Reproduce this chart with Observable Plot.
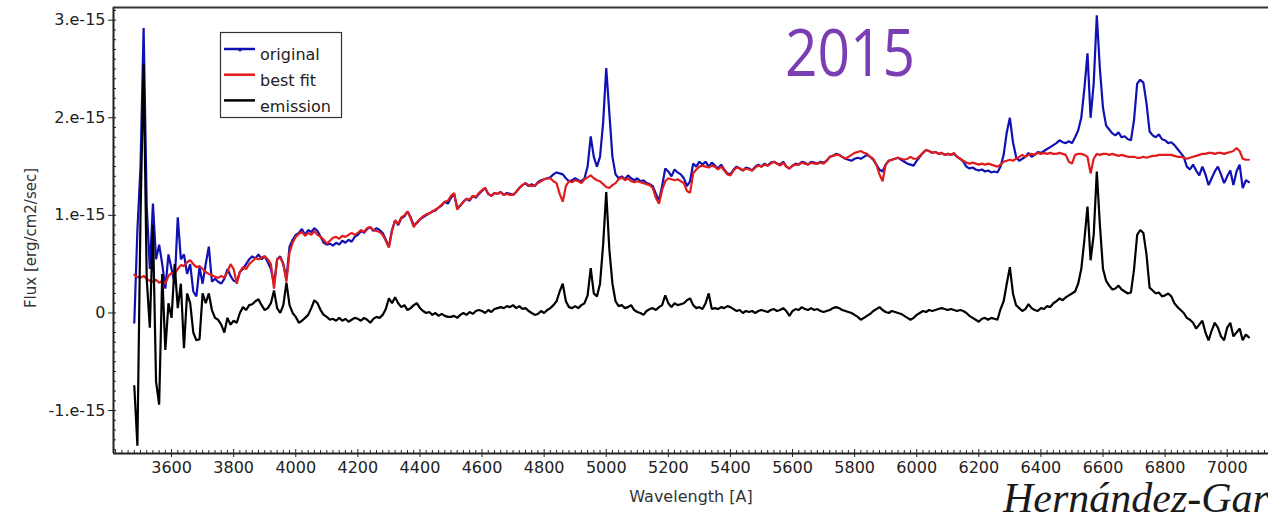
<!DOCTYPE html>
<html>
<head>
<meta charset="utf-8">
<script src="https://cdn.jsdelivr.net/npm/d3@7"></script>
<script src="https://cdn.jsdelivr.net/npm/@observablehq/plot@0.6"></script>
<style>
  html, body { margin: 0; padding: 0; background: #fff; }
  #wrap { position: relative; width: 1268px; height: 512px; overflow: hidden; background: #fff; }
  #overlay { position: absolute; left: 0; top: 0; pointer-events: none; }
</style>
</head>
<body>
<div id="wrap"><div id="chart"></div><svg id="overlay" width="1268" height="512"></svg></div>
<script>
// Spectrum sampled every 10 Å starting at 3480 Å; flux values in units of 1e-15 erg/cm2/sec
const wavelengthStart = 3480;
const wavelengthStep = 10;

const original = [
  -0.1, 0.85,
  1.5, 2.92, 1.1, 0.45, 1.12, 0.55, 0.7, 0.5, 0.25, 0.6,
  0.45, 0.3, 0.98, 0.55, 0.6, 0.4, 0.5, 0.22, 0.17, 0.47,
  0.3, 0.5, 0.68, 0.32, 0.35, 0.32, 0.3, 0.35, 0.45, 0.38,
  0.33, 0.32, 0.42, 0.45, 0.5, 0.55, 0.58, 0.56, 0.6, 0.55,
  0.58, 0.52, 0.45, 0.3, 0.55, 0.58, 0.5, 0.35, 0.68, 0.75,
  0.8, 0.82, 0.86, 0.8, 0.85, 0.83, 0.87, 0.84, 0.78, 0.72,
  0.7, 0.71, 0.69, 0.72, 0.7, 0.74, 0.72, 0.75, 0.73, 0.78,
  0.8, 0.84, 0.82, 0.86, 0.88, 0.84, 0.87, 0.85, 0.82, 0.75,
  0.68, 0.85, 0.95, 0.9, 0.97, 0.99, 1.04, 0.98, 0.9, 0.92,
  0.96, 0.98, 1.0, 1.02, 1.04, 1.05, 1.08, 1.1, 1.14, 1.12,
  1.18, 1.22, 1.08, 1.1, 1.14, 1.17, 1.15, 1.2, 1.18, 1.22,
  1.25, 1.28, 1.22, 1.2, 1.23, 1.22, 1.24, 1.21, 1.23, 1.22,
  1.21, 1.24, 1.28, 1.31, 1.33, 1.3, 1.32, 1.3, 1.34, 1.36,
  1.37, 1.38, 1.39, 1.42, 1.44, 1.43, 1.42, 1.38, 1.35, 1.36,
  1.38, 1.36, 1.35, 1.38, 1.5, 1.81, 1.6, 1.5, 1.6, 1.95,
  2.51, 2.05, 1.6, 1.42, 1.38, 1.4, 1.37, 1.41, 1.38, 1.36,
  1.38, 1.35, 1.36, 1.33, 1.32, 1.3, 1.22, 1.15, 1.3, 1.48,
  1.45, 1.4, 1.47, 1.44, 1.42, 1.38, 1.3, 1.35, 1.53, 1.5,
  1.55, 1.52, 1.55, 1.5, 1.54, 1.51, 1.48, 1.52, 1.47, 1.43,
  1.42, 1.47, 1.5, 1.48, 1.46, 1.49, 1.48, 1.46, 1.5, 1.52,
  1.5, 1.53, 1.51, 1.54, 1.55, 1.53, 1.52, 1.55, 1.5, 1.48,
  1.51, 1.53, 1.52, 1.55, 1.54, 1.52, 1.55, 1.54, 1.53, 1.55,
  1.54, 1.56, 1.6, 1.61, 1.63, 1.62, 1.6, 1.58, 1.57, 1.56,
  1.58, 1.59, 1.58, 1.6, 1.62, 1.6, 1.57, 1.52, 1.47, 1.45,
  1.52, 1.56, 1.57, 1.58, 1.59, 1.57, 1.55, 1.53, 1.52, 1.51,
  1.56, 1.6, 1.64, 1.67, 1.66, 1.64, 1.65, 1.63, 1.64, 1.62,
  1.63, 1.62, 1.63, 1.6, 1.58, 1.55, 1.5, 1.48, 1.49, 1.47,
  1.46, 1.47, 1.45, 1.46, 1.44, 1.45, 1.44, 1.5, 1.62, 1.85,
  2.0, 1.75, 1.6, 1.56, 1.58, 1.6, 1.64, 1.6, 1.62, 1.65,
  1.64, 1.66, 1.68, 1.7, 1.72, 1.74, 1.77, 1.75, 1.74, 1.76,
  1.74, 1.8, 1.87, 2.0, 2.3, 2.66, 2.0, 2.35, 3.05, 2.5,
  2.1, 1.92, 1.88, 1.84, 1.82, 1.85, 1.8, 1.81, 1.78, 1.77,
  1.98, 2.35, 2.39, 2.36, 2.15, 1.86, 1.82, 1.8, 1.83, 1.78,
  1.77, 1.74, 1.75, 1.72, 1.68, 1.64, 1.6, 1.5, 1.47, 1.52,
  1.46, 1.41, 1.5, 1.42, 1.31, 1.38, 1.45, 1.5, 1.42, 1.33,
  1.4, 1.46, 1.31, 1.45, 1.52, 1.28, 1.36, 1.34
];

const bestFit = [
  0.39, 0.37,
  0.36, 0.38, 0.35, 0.33, 0.32, 0.34, 0.31, 0.33, 0.3, 0.38,
  0.41, 0.4, 0.45, 0.49, 0.48, 0.52, 0.54, 0.5, 0.47, 0.48,
  0.45, 0.42, 0.4, 0.39, 0.37, 0.36, 0.38, 0.36, 0.42, 0.5,
  0.45, 0.3, 0.42, 0.47, 0.45, 0.5, 0.53, 0.56, 0.55, 0.57,
  0.58, 0.55, 0.5, 0.25, 0.55, 0.57, 0.5, 0.32, 0.62, 0.72,
  0.78, 0.81, 0.83, 0.79, 0.82, 0.8, 0.84, 0.8, 0.78, 0.75,
  0.71, 0.74, 0.77, 0.78, 0.76, 0.79, 0.78, 0.8, 0.82, 0.8,
  0.82, 0.85, 0.83, 0.87, 0.88, 0.85, 0.84, 0.83, 0.8, 0.74,
  0.67, 0.84, 0.95, 0.91, 0.98, 1.0, 1.04, 0.97, 0.88, 0.93,
  0.96, 0.99, 1.01, 1.02, 1.04, 1.06, 1.08, 1.11, 1.14, 1.15,
  1.2, 1.23, 1.06, 1.1, 1.14, 1.17, 1.16, 1.2, 1.19, 1.23,
  1.26, 1.28, 1.22, 1.2, 1.23, 1.22, 1.24, 1.21, 1.22, 1.21,
  1.21, 1.24, 1.28, 1.31, 1.33, 1.31, 1.3, 1.31, 1.33, 1.35,
  1.37, 1.38, 1.38, 1.35, 1.33, 1.22, 1.14, 1.3, 1.35, 1.34,
  1.36, 1.35, 1.33, 1.37, 1.39, 1.41, 1.38, 1.36, 1.35, 1.32,
  1.29, 1.28, 1.31, 1.33, 1.37, 1.39, 1.36, 1.38, 1.35, 1.34,
  1.35, 1.34, 1.33, 1.32, 1.31, 1.28, 1.18, 1.12, 1.26, 1.35,
  1.38, 1.37, 1.36, 1.37, 1.35, 1.33, 1.25, 1.23, 1.43, 1.47,
  1.5, 1.51, 1.5, 1.49, 1.51, 1.5, 1.47, 1.5, 1.46, 1.42,
  1.41, 1.46, 1.49, 1.48, 1.46, 1.48, 1.47, 1.46, 1.49, 1.51,
  1.5, 1.52, 1.51, 1.53, 1.55, 1.53, 1.51, 1.54, 1.5, 1.48,
  1.51, 1.52, 1.52, 1.54, 1.53, 1.52, 1.54, 1.53, 1.53, 1.54,
  1.53, 1.56, 1.6, 1.61, 1.62, 1.62, 1.6, 1.58, 1.6, 1.62,
  1.64, 1.65, 1.66, 1.64, 1.63, 1.6, 1.58, 1.52, 1.42, 1.35,
  1.52, 1.56, 1.57, 1.58, 1.59, 1.58, 1.57, 1.58, 1.6, 1.58,
  1.58, 1.61, 1.64, 1.67, 1.66, 1.64, 1.65, 1.63, 1.64, 1.62,
  1.63, 1.62, 1.64, 1.6, 1.58, 1.56, 1.54, 1.53, 1.54, 1.53,
  1.52, 1.53, 1.52, 1.53, 1.52, 1.51, 1.5, 1.52, 1.55, 1.56,
  1.57, 1.56, 1.58, 1.6, 1.62, 1.6, 1.62, 1.63, 1.62, 1.64,
  1.63, 1.64, 1.63, 1.64, 1.63, 1.63, 1.64, 1.63, 1.62, 1.55,
  1.53, 1.62, 1.63, 1.63, 1.62, 1.6, 1.43, 1.58, 1.63, 1.62,
  1.63, 1.63, 1.62, 1.63, 1.62, 1.61, 1.62, 1.61, 1.6, 1.6,
  1.6, 1.59, 1.59, 1.6, 1.59, 1.6, 1.61, 1.61, 1.62, 1.62,
  1.62, 1.62, 1.62, 1.61, 1.6, 1.6, 1.59, 1.58, 1.59, 1.6,
  1.61, 1.62, 1.63, 1.63, 1.64, 1.64, 1.63, 1.64, 1.64, 1.63,
  1.64, 1.65, 1.66, 1.69, 1.66, 1.58, 1.57, 1.57
];

const emission = [
  -0.75, -1.36,
  1.0, 2.55, 0.35, -0.15, 0.9, -0.7, -0.94, 0.4, -0.38, 0.1,
  -0.05, 0.5, 0.05, 0.3, -0.36, 0.2, 0.1, -0.2, -0.28, -0.27,
  0.2, 0.1, 0.2, 0.03, -0.05, -0.07, -0.12, -0.2, -0.05, -0.12,
  -0.08, -0.1, 0.0, 0.06, 0.03, 0.08, 0.09, 0.12, 0.14, 0.08,
  0.03, 0.05, 0.1, 0.23, 0.05, 0.0, 0.08, 0.31, 0.08, 0.0,
  -0.04, -0.1, -0.08, -0.05, -0.02, 0.05, 0.13, 0.1, 0.03, -0.02,
  -0.04, -0.07, -0.06, -0.08, -0.05, -0.08, -0.06, -0.09, -0.07, -0.05,
  -0.06, -0.08, -0.05, -0.07, -0.1, -0.06, -0.04, -0.05, -0.02, 0.04,
  0.15, 0.1, 0.16, 0.1, 0.06, 0.08, 0.03, 0.05, 0.08, 0.1,
  0.05, 0.02, 0.0, 0.01, -0.02, 0.0, -0.03, -0.01, -0.03, -0.04,
  -0.04, -0.03, -0.05, -0.02, 0.0, -0.02, 0.01, -0.01, 0.02, 0.03,
  0.02, 0.0, 0.03, 0.01, 0.04, 0.05, 0.06, 0.05, 0.07, 0.06,
  0.08, 0.05, 0.07, 0.04, 0.05, 0.02, 0.0, -0.02, -0.01, 0.02,
  0.0, 0.03, 0.05, 0.08, 0.12, 0.22, 0.3, 0.12, 0.06, 0.05,
  0.07, 0.05, 0.08, 0.1, 0.18, 0.46, 0.2, 0.17, 0.3, 0.7,
  1.24, 0.65, 0.3, 0.12, 0.07, 0.08, 0.05, 0.06, 0.08, 0.03,
  0.01, 0.0, -0.02, 0.02, 0.04, 0.05, 0.03, 0.06, 0.08, 0.18,
  0.1, 0.06, 0.1, 0.08, 0.09, 0.1, 0.13, 0.15, 0.08, 0.05,
  0.06, 0.04, 0.1, 0.2, 0.04, 0.05, 0.04, 0.06, 0.05, 0.07,
  0.06, 0.04, 0.02, 0.03, 0.0, 0.02, 0.01, 0.02, 0.0, 0.02,
  0.03, 0.02, 0.01, 0.03, 0.04, 0.02, 0.03, 0.05, 0.02, -0.03,
  0.02, 0.04, 0.03, 0.06, 0.04, 0.03, 0.05, 0.03, 0.04, 0.02,
  0.01, 0.02, 0.03, 0.05, 0.06, 0.05, 0.03, 0.02, 0.01, 0.0,
  -0.02, -0.04, -0.07, -0.05, -0.03, -0.01, 0.02, 0.04, 0.06, 0.03,
  0.01, 0.0, 0.02, 0.01, 0.0, -0.01, -0.03, -0.05, -0.07, -0.05,
  -0.02, 0.0, 0.02, 0.01, 0.03, 0.02, 0.03, 0.04, 0.05, 0.04,
  0.03, 0.04, 0.03, 0.02, 0.03, 0.02, 0.0, -0.03, -0.05, -0.07,
  -0.09, -0.06, -0.05, -0.07, -0.05, -0.06, -0.07, 0.04, 0.12, 0.3,
  0.47, 0.2, 0.08, 0.05, 0.02, 0.04, 0.09, 0.05, 0.03, 0.02,
  0.05, 0.04, 0.07, 0.06, 0.1, 0.12, 0.15, 0.13, 0.16, 0.18,
  0.2, 0.22, 0.3, 0.45, 0.75, 1.09, 0.54, 0.8, 1.45, 0.9,
  0.45, 0.33, 0.28, 0.24, 0.25, 0.28, 0.24, 0.22, 0.2, 0.21,
  0.45, 0.8, 0.85, 0.82, 0.6, 0.26, 0.23, 0.2, 0.21, 0.17,
  0.18, 0.2, 0.17, 0.1, 0.06, 0.03, 0.0, -0.05, -0.07, -0.1,
  -0.16, -0.12, -0.08, -0.2, -0.28, -0.18, -0.1, -0.15, -0.24, -0.28,
  -0.15, -0.1, -0.24, -0.2, -0.16, -0.28, -0.22, -0.25
];

const seriesNames = ["original", "best fit", "emission"];
const seriesColors = ["#1010b4", "#e01c1c", "#000000"];

const xTicks = [3600, 3800, 4000, 4200, 4400, 4600, 4800, 5000, 5200, 5400, 5600, 5800, 6000, 6200, 6400, 6600, 6800, 7000];
const yTicks = [-1, 0, 1, 2, 3];
const yTickLabels = ["-1.e-15", "0", "1.e-15", "2.e-15", "3.e-15"];
const xLabel = "Wavelength [A]";
const yLabel = "Flux [erg/cm2/sec]";
const yearNote = "2015";
const creditNote = "Hernández-García";

const xDomain = [3413, 7133];
const yDomain = [-1.44, 3.13];

const W = 1268, H = 512;
const mL = 113, mR = 0, mT = 7, mB = 59;
const plotW = W - mL - mR, plotH = H - mT - mB;

const wavelengths = original.map((_, i) => wavelengthStart + i * wavelengthStep);
const series = [original, bestFit, emission];

const xMinor = d3.range(3420, 7140, 20).filter(v => !xTicks.includes(v));
const yMinor = d3.range(-14, 32).map(v => v / 10).filter(v => !yTicks.includes(v));

const chart = Plot.plot({
  width: W, height: H,
  marginLeft: mL, marginRight: mR, marginTop: mT, marginBottom: mB,
  x: { domain: xDomain, label: null },
  y: { domain: yDomain, label: null },
  style: { fontFamily: "DejaVu Sans, sans-serif", fontSize: "16px", color: "#222", background: "white" },
  marks: [
    ...series.map((s, k) => Plot.line(s, {
      x: (d, i) => wavelengths[i], y: d => d,
      stroke: seriesColors[k], strokeWidth: 2.2, strokeLinejoin: "miter"
    })),
    Plot.tickX(xMinor, { x: d => d, insetTop: plotH - 3, stroke: "#222" }),
    Plot.tickX(xTicks, { x: d => d, insetTop: plotH - 4, insetBottom: -4, stroke: "#222" }),
    Plot.tickY(yMinor, { y: d => d, insetRight: plotW - 3, stroke: "#222" }),
    Plot.tickY(yTicks, { y: d => d, insetRight: plotW - 3, insetLeft: -5, stroke: "#222" }),
    Plot.ruleX([xDomain[0]], { stroke: "#222", strokeWidth: 2 }),
    Plot.ruleY([yDomain[0]], { stroke: "#222", strokeWidth: 2 }),
    Plot.ruleY([yDomain[1]], { stroke: "#333", strokeWidth: 2 }),
    Plot.axisX({ ticks: xTicks, tickSize: 0, tickPadding: 8, label: null, tickFormat: d => String(d), fill: "#222" }),
    Plot.axisY({ ticks: yTicks, tickSize: 0, tickPadding: 8, label: null, tickFormat: d => yTickLabels[yTicks.indexOf(d)], fill: "#222" })
  ]
});
document.getElementById("chart").appendChild(chart);

// Overlay: legend, axis titles and annotations
const ov = d3.select("#overlay");
ov.append("rect").attr("x", 220.5).attr("y", 32.5).attr("width", 121).attr("height", 85)
  .attr("fill", "#fff").attr("stroke", "#333").attr("stroke-width", 1.2);
seriesNames.forEach((name, i) => {
  const ly = 49 + i * 25.7;
  ov.append("line").attr("x1", 224).attr("x2", 255).attr("y1", ly).attr("y2", ly)
    .attr("stroke", seriesColors[i]).attr("stroke-width", 2.5);
  ov.append("text").attr("x", 260).attr("y", 60 + i * 26.2).text(name)
    .attr("font-family", "DejaVu Sans, sans-serif").attr("font-size", 16).attr("fill", "#222");
});
ov.append("circle").attr("cx", 240).attr("cy", 50).attr("r", 1.6).attr("fill", seriesColors[0]);

ov.append("text").attr("x", 691).attr("y", 502).attr("text-anchor", "middle")
  .attr("font-family", "DejaVu Sans, sans-serif").attr("font-size", 16).attr("fill", "#333").text(xLabel);
ov.append("text").attr("transform", "translate(31,238) rotate(-90)").attr("text-anchor", "middle")
  .attr("dominant-baseline", "central")
  .attr("font-family", "DejaVu Sans, sans-serif").attr("font-size", 15).attr("fill", "#333").text(yLabel);

ov.append("text").attr("x", 785).attr("y", 76).attr("textLength", 130).attr("lengthAdjust", "spacingAndGlyphs")
  .attr("font-family", "Open Sans, sans-serif").attr("font-size", 66).attr("fill", "#7b3db3").text(yearNote);
ov.append("text").attr("x", 1003).attr("y", 512)
  .attr("font-family", "Liberation Serif, serif").attr("font-style", "italic").attr("font-size", 42)
  .attr("fill", "#1a1a1a").text(creditNote);
</script>
</body>
</html>
